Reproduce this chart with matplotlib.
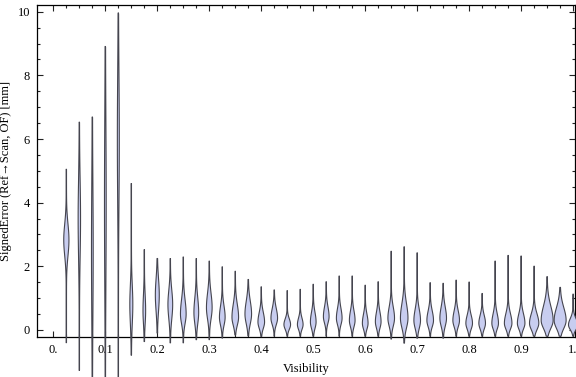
import numpy as np
import matplotlib
matplotlib.use("Agg")
import matplotlib.pyplot as plt
from matplotlib.ticker import MultipleLocator

# one violin per visibility bin
visibility = [0.025, 0.05, 0.075, 0.1, 0.125, 0.15, 0.175, 0.2, 0.225, 0.25,
              0.275, 0.3, 0.325, 0.35, 0.375, 0.4, 0.425, 0.45, 0.475, 0.5,
              0.525, 0.55, 0.575, 0.6, 0.625, 0.65, 0.675, 0.7, 0.725, 0.75,
              0.775, 0.8, 0.825, 0.85, 0.875, 0.9, 0.925, 0.95, 0.975, 1.0]
err_max = [5.06, 6.54, 6.70, 8.92, 9.97, 4.61, 2.53, 2.25, 2.25, 2.30,
           2.25, 2.17, 1.99, 1.85, 1.59, 1.36, 1.26, 1.24, 1.28, 1.44,
           1.52, 1.70, 1.70, 1.41, 1.52, 2.48, 2.62, 2.43, 1.49, 1.47,
           1.57, 1.51, 1.15, 2.17, 2.35, 2.33, 2.01, 1.68, 1.34, 1.13]
err_min = [-0.41, -1.28, -1.70, -1.70, -1.70, -0.80, -0.37, -0.10, -0.41, -0.41,
           -0.31, -0.31, -0.26, -0.16, -0.19, -0.21, -0.20, -0.20, -0.20, -0.20,
           -0.20, -0.20, -0.20, -0.20, -0.20, -0.29, -0.42, -0.26, -0.20, -0.26,
           -0.20, -0.20, -0.20, -0.20, -0.20, -0.20, -0.20, -0.20, -0.20, -0.20]
err_mode = [2.83, 3.5, 2.5, 4.0, 6.0, 0.8, 0.6, 1.1, 0.8, 0.5,
            0.55, 0.7, 0.4, 0.4, 0.5, 0.25, 0.37, 0.17, 0.17, 0.25,
            0.42, 0.37, 0.3, 0.21, 0.26, 0.37, 0.37, 0.3, 0.3, 0.37,
            0.3, 0.21, 0.21, 0.21, 0.21, 0.21, 0.21, 0.3, 0.3, 0.16]
# relative peak density (1 = widest violin)
peak = [0.42, 0.18, 0.12, 0.12, 0.14, 0.23, 0.20, 0.31, 0.38, 0.46,
        0.38, 0.46, 0.46, 0.54, 0.54, 0.54, 0.54, 0.54, 0.46, 0.46,
        0.46, 0.46, 0.46, 0.46, 0.46, 0.54, 0.62, 0.54, 0.54, 0.54,
        0.54, 0.54, 0.54, 0.54, 0.62, 0.62, 0.77, 1.00, 1.00, 0.77]
spread_lo = [0.5, 1.2, 2.0, 2.5, 2.0, 0.6, 0.4, 0.5, 0.45, 0.3,
             0.35, 0.35, 0.25, 0.25, 0.3, 0.2, 0.2, 0.15, 0.15, 0.2,
             0.2, 0.2, 0.2, 0.18, 0.2, 0.25, 0.3, 0.25, 0.2, 0.25,
             0.2, 0.18, 0.18, 0.18, 0.18, 0.18, 0.2, 0.25, 0.25, 0.15]
spread_hi = [0.5, 1.2, 2.0, 2.5, 2.0, 0.6, 0.5, 0.5, 0.45, 0.45,
             0.45, 0.45, 0.35, 0.4, 0.4, 0.3, 0.3, 0.18, 0.2, 0.3,
             0.3, 0.3, 0.3, 0.28, 0.3, 0.35, 0.45, 0.35, 0.3, 0.35,
             0.3, 0.25, 0.25, 0.3, 0.3, 0.3, 0.3, 0.45, 0.4, 0.2]

HALF_W = 0.0112
FILL = "#c8cdf0"
EDGE = "#45454f"

plt.rcParams["font.family"] = ["Liberation Serif", "DejaVu Serif"]
fig = plt.figure(figsize=(5.76, 3.77), dpi=100)
ax = fig.add_axes([0.0642, 0.107, 0.9338, 0.8805])

for x, lo, hi, m, p, sl, sh in zip(visibility, err_min, err_max, err_mode,
                                    peak, spread_lo, spread_hi):
    y = np.linspace(lo, hi, 300)
    s = np.where(y < m, sl, sh)
    w = HALF_W * p * np.exp(-0.5 * ((y - m) / s) ** 2) + 0.0003
    w[0] = w[-1] = 0
    xs = np.concatenate([x - w, (x + w)[::-1]])
    ys = np.concatenate([y, y[::-1]])
    ax.fill(xs, ys, facecolor=FILL, edgecolor=EDGE, linewidth=0.8,
            clip_on=False, zorder=3)

ax.set_xlim(-0.0315, 1.0033)
ax.set_ylim(-0.21, 10.22)
ax.yaxis.set_major_locator(MultipleLocator(2))
ax.yaxis.set_minor_locator(MultipleLocator(0.5))
ax.set_xticks(visibility, minor=True)
ticks = [0.0, 0.1, 0.2, 0.3, 0.4, 0.5, 0.6, 0.7, 0.8, 0.9, 1.0]
labels = ["0.", "0.1", "0.2", "0.3", "0.4", "0.5", "0.6", "0.7", "0.8", "0.9", "1."]
ax.set_xticks(ticks)
ax.set_xticklabels(labels)
ax.tick_params(which="both", direction="in", top=True, right=True,
               labelsize=9, pad=5, width=0.8, color="#222")
ax.tick_params(which="major", length=4.5)
ax.tick_params(which="minor", length=2.5)
for sp in ax.spines.values():
    sp.set_linewidth(0.9)
ax.set_xlabel("Visibility", fontsize=9, labelpad=5)
ax.set_ylabel("SignedError (Ref\u2192Scan, OF) [mm]", fontsize=9, labelpad=4)

fig.savefig("out.png", dpi=100)
